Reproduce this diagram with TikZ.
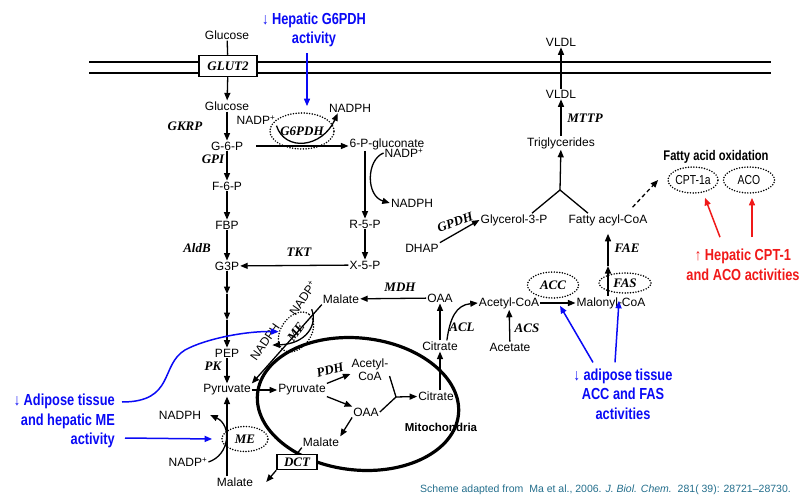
\documentclass[tikz,border=0pt]{standalone}
\usepackage{fontspec}
\setmainfont{Liberation Sans}
\newfontfamily\enzfont{Liberation Serif}
\newfontfamily\narrowfont[FakeStretch=0.8]{Liberation Sans}
\usetikzlibrary{arrows.meta,shapes.geometric}

\definecolor{tealcite}{RGB}{35,110,140}
\definecolor{upred}{RGB}{240,25,25}
\definecolor{downblue}{RGB}{10,10,245}

\tikzset{
  met/.style={font=\fontsize{12}{13}\selectfont, inner sep=1pt},
  enz/.style={font=\fontsize{13}{14}\selectfont\enzfont\bfseries\itshape, inner sep=1pt},
  note/.style={font=\fontsize{16}{19.5}\selectfont\narrowfont\bfseries, align=center, inner sep=1pt},
  arr/.style={-{Triangle[length=7.5pt,width=6pt]}, line width=1.3pt},
  barr/.style={arr, draw=downblue, line width=1.5pt},
  rarr/.style={arr, draw=upred, line width=1.5pt},
  ring/.style={ellipse, draw, line width=1.7pt, dash pattern=on 0pt off 2.7pt, line cap=round},
  boxed/.style={draw, line width=1.5pt, fill=white}
}

\begin{document}
\begin{tikzpicture}[x=1pt,y=-1pt]
    \useasboundingbox (0,0) rectangle (803,497);

    % Membrane
    \draw[line width=1.8pt] (89,62) -- (771,62) (89,73) -- (771,73);
    \node[met] (glcout) at (227,35) {Glucose};
    \node[boxed, enz, minimum width=58pt, minimum height=21pt] (glut) at (228,66) {GLUT2};
    \draw[line width=1.3pt] (glcout) -- (glut);

    % Glycolysis
    \node[met] (glcin) at (227,106) {Glucose};
    \node[met] (g6p) at (227,146) {G-6-P};
    \node[met] (f6p) at (227,186) {F-6-P};
    \node[met] (fbp) at (227,225) {FBP};
    \node[met] (g3p) at (227,266) {G3P};
    \node[met] (pep) at (227,353) {PEP};
    \node[met] (pyr) at (227,390) {Pyruvate};
    \coordinate (s1) at (227,294);
    \coordinate (s2) at (227,320);
    \node[enz] (gkrp) at (185,126) {GKRP};
    \node[enz] (gpi) at (213,159) {GPI};
    \node[enz] (aldb) at (197,248) {AldB};
    \node[enz] (pk) at (213,366) {PK};

    \draw[arr] (glut) -- (glcin);
    \draw[arr] (glcin) -- (g6p);
    \draw[arr] (g6p) -- (f6p);
    \draw[arr] (f6p) -- (fbp);
    \draw[arr] (fbp) -- (g3p);
    \draw[arr] (g3p) -- (s1);
    \draw[arr] (s1) -- (s2);
    \draw[arr] (s2) -- (pep);
    \draw[arr] (pep) -- (pyr);

    % Pentose phosphate
    \node[ring, enz, minimum width=61pt, minimum height=36pt] (g6pdh) at (302,131) {G6PDH};
    \node[met] (nadp1) at (256,120) {NADP\textsuperscript{+}};
    \node[met] (nadph1) at (350,108) {NADPH};
    \node[met] (pgl) at (387,144) {6-P-gluconate};
    \node[met] (nadp2) at (404,153) {NADP\textsuperscript{+}};
    \node[met] (nadph2) at (412,203) {NADPH};
    \node[met] (r5p) at (365,224) {R-5-P};
    \node[met] (x5p) at (365,265) {X-5-P};
    \node[enz] (tkt) at (299,252) {TKT};

    \draw[arr] ([xshift=12pt]g6p.east) -- (g6p.east -| pgl.west);
    \draw[arr] (nadp1.south east) .. controls (285,152) and (322,148) .. ([xshift=10pt]nadph1.south west);
    \draw[arr] (pgl.south -| r5p) -- (r5p);
    \draw[arr] (nadp2.west) .. controls (366,160) and (366,196) .. (nadph2.west);
    \draw[arr] (r5p) -- (x5p);
    \draw[arr] (x5p) -- (g3p);

    % Cytosol, lipogenesis
    \node[met] (malc1) at (341,299) {Malate};
    \node[met] (oaac) at (440,298) {OAA};
    \node[enz] (mdh) at (400,287) {MDH};
    \node[met] (citc) at (440,346) {Citrate};
    \node[met] (acoac) at (509,303) {Acetyl-CoA};
    \node[met] (acet) at (510,347) {Acetate};
    \node[met] (malon) at (611,303) {Malonyl-CoA};
    \node[ring, enz, minimum width=51pt, minimum height=26pt] (acc) at (553,285) {ACC};
    \node[ring, enz, minimum width=52pt, minimum height=20pt] (fas) at (625,283) {FAS};
    \node[enz] (acl) at (462,327) {ACL};
    \node[enz] (acs) at (527,328) {ACS};
    \node[met] (facoa) at (608,220) {Fatty acyl-CoA};
    \coordinate (f1) at (608,266);
    \node[enz] (fae) at (627,248) {FAE};
    \node[met] (gly3p) at (514,220) {Glycerol-3-P};
    \node[met] (dhap) at (422,248) {DHAP};
    \node[enz, rotate=20] (gpdh) at (455,222) {GPDH};
    \coordinate (tj) at (560,190);
    \node[met] (tg) at (561,143) {Triglycerides};
    \node[met] (vldl1) at (561,94) {VLDL};
    \node[met] (vldl2) at (561,42) {VLDL};
    \node[enz] (mttp) at (585,118) {MTTP};

    \draw[arr] (oaac) -- (malc1);
    \draw[arr] (citc) -- (oaac);
    \draw[arr] ([xshift=-12pt]citc.north east) .. controls (450,318) and (456,305) .. (acoac.west);
    \draw[arr] (acet) -- (acoac);
    \draw[arr] (acoac) -- (malon);
    \draw[arr] (malon.north -| f1) -- (f1);
    \draw[arr, shorten >=7pt] (f1) -- (facoa);
    \draw[arr] (dhap.north east) -- (gly3p.west);
    \draw[line width=1.3pt] ([xshift=18pt]gly3p.north) -- (tj) -- ([xshift=-20pt]facoa.north);
    \draw[arr] (tj) -- (tg);
    \draw[arr] (tg) -- (vldl1);
    \draw[arr] (vldl1) -- (vldl2);

    % Fatty acid oxidation
    \node[font=\fontsize{14}{16}\selectfont\narrowfont\bfseries, inner sep=1pt] (fao) at (716,157) {Fatty acid oxidation};
    \node[ring, font=\fontsize{13}{14}\selectfont\narrowfont, inner sep=0pt, minimum width=50pt, minimum height=26pt] (cpt) at (693,180) {CPT-1a};
    \node[ring, font=\fontsize{13}{14}\selectfont\narrowfont, inner sep=0pt, minimum width=51pt, minimum height=26pt] (aco) at (749,180) {ACO};
    \draw[arr, dash pattern=on 4pt off 3pt] ([xshift=-16pt,yshift=6pt]facoa.north east) -- ([xshift=-9pt]cpt.west);

    % Mitochondria
    \node[met] (pyrm) at (302,390) {Pyruvate};
    \node[met, align=center] (acoam) at (370,370) {Acetyl-\\CoA};
    \node[met] (oaam) at (366,412) {OAA};
    \node[met] (citm) at (436,396) {Citrate};
    \node[met] (malm) at (321,442) {Malate};
    \node[enz, rotate=15] (pdh) at (330,370) {PDH};
    \node[font=\fontsize{11.5}{13}\selectfont\bfseries, inner sep=1pt] (mito) at (441,427) {Mitochondria};
    \coordinate (yj) at (396,397);

    \draw[arr] (pyr) -- (pyrm);
    \draw[arr] (pyrm.north east) -- ([yshift=-4pt]acoam.west);
    \draw[arr] (pyrm.south east) -- (oaam.north west);
    \draw[line width=1.3pt] ([yshift=-6pt]acoam.east) -- (yj) -- (oaam.east);
    \draw[arr] (yj) -- (citm);
    \draw[arr] (oaam.south west) -- (malm.north east);
    \draw[arr] (citm.north -| citc) -- (citc);
    \draw[line width=3.2pt, rotate around={-6:(358,404)}] (358,404) ellipse [x radius=101, y radius=66];

    \node[boxed, enz, minimum width=40pt, minimum height=15pt] (dct) at (297,462) {DCT};
    \node[met] (malc2) at (235,482) {Malate};
    \draw[line width=1.3pt] (malm.south west) -- (dct.north);
    \draw[arr] (dct.south west) -- ([xshift=12pt]malc2.east);

    % Malic enzyme
    \node[ring, enz, minimum width=46pt, minimum height=25pt] (me2) at (245,439) {ME};
    \node[met] (nadph3) at (180,415) {NADPH};
    \node[met] (nadp3) at (188,462) {NADP\textsuperscript{+}};
    \draw[arr] (malc2.north -| pyr) -- (pyr);
    \draw[arr] (nadp3.east) .. controls (230,455) and (232,425) .. ([xshift=8pt]nadph3.east);

    \node[ring, enz, rotate=55, minimum width=44pt, minimum height=30pt] (me1) at (296,332) {ME};
    \node[met, rotate=55] (nadp4) at (303,298) {NADP\textsuperscript{+}};
    \node[met, rotate=55] (nadph4) at (265,342) {NADPH};
    \draw[arr] ([xshift=4pt,yshift=-8pt]nadp4.south) .. controls (318,325) and (306,344) .. ([xshift=3pt]nadph4.south);
    \draw[arr] (malc1.south west) -- (pyr.north east);

    % Notes
    \node[note, text=downblue] (g6ptext) at (314,30) {↓ Hepatic G6PDH\\activity};
    \draw[barr] ([xshift=-7pt,yshift=-5pt]g6ptext.south) -- ([xshift=5pt,yshift=6pt]g6pdh.north);

    \node[note, text=downblue, align=right, anchor=east] (adme) at (116,421) {↓ Adipose tissue\\and hepatic ME\\activity};
    \draw[barr] ([xshift=9pt,yshift=-17pt]adme.east) -- ([xshift=-9pt]me2.west);
    \draw[barr] ([xshift=6pt,yshift=19pt]adme.east) .. controls (175,402) and (160,365) .. (185,350) .. controls (205,339) and (245,331) .. (me1);

    \node[note, text=downblue] (accfas) at (623,394) {↓ adipose tissue\\ACC and FAS\\activities};
    \draw[barr] ([xshift=-30pt,yshift=5pt]accfas.north) -- ([xshift=7pt,yshift=-7pt]acc.south);
    \draw[barr] ([xshift=-8pt,yshift=5pt]accfas.north) -- ([xshift=-6pt,yshift=-7pt]fas.south);

    \node[note, text=upred] (uptext) at (743,265) {↑ Hepatic CPT-1\\and ACO activities};
    \draw[rarr] ([xshift=-23pt,yshift=11pt]uptext.north) -- ([xshift=12pt,yshift=-4pt]cpt.south);
    \draw[rarr] ([xshift=9pt,yshift=11pt]uptext.north) -- ([xshift=3pt,yshift=-4pt]aco.south);

    \node[font=\fontsize{10.5}{12}\selectfont, text=tealcite, anchor=east, inner sep=0pt] (cite) at (791,490) {Scheme adapted from\ \ Ma et al., 2006. \textit{J. Biol. Chem.}\ \ 281( 39): 28721--28730.};
\end{tikzpicture}
\end{document}
